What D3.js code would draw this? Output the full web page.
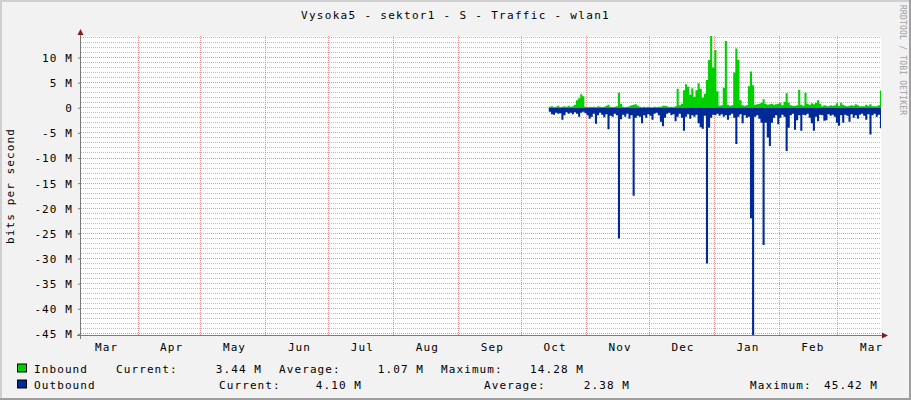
<!DOCTYPE html>
<html><head><meta charset="utf-8">
<script src="https://cdn.jsdelivr.net/npm/d3@7/dist/d3.min.js"></script>
<style>
html,body{margin:0;padding:0;background:#F2F2F2;}
svg{display:block;}
text{font-family:"DejaVu Sans Mono",monospace;}
</style></head><body>
<svg id="chart" width="911" height="400"></svg>
<script>
// ---------------- data ----------------
const chartTitle = "Vysoka5 - sektor1 - S - Traffic - wlan1";
const yAxisTitle = "bits per second";
const watermark = "RRDTOOL / TOBI OETIKER";
const timeStart = "2012-03-04T19:12";
const timeEnd = "2013-03-21T12:30";
const firstDay = "2012-10-14";          // first daily sample
const yMin = -45.42, yMax = 14.28;        // M bits per second
const yTickValues = [-45,-40,-35,-30,-25,-20,-15,-10,-5,0,5,10];

// Inbound (M, positive), one value per day from firstDay
const inbound = [
 0.2,0.3,0.1,0.2,0.4,0.1,0.2,0.3,0.2,0.4,0.2,0.3,
 0.6,1.5,1.9,2.7,2.3,0.2,
 0.1,0.2,0.1,0.2,0.1,0.3,0.2,0.1,0.2,0.4,0.6,0.2,0.1,0.2,0.3,
 3.0,0.8,
 0.2,0.1,0.2,0.3,0.5,0.6,0.7,0.4,
 0.2,0.1,0.2,0.1,0.2,0.1,0.1,0.2,0.1,0.2,0.2,0.4,0.4,0.3,0.1,0.2,0.1,
 0.3,3.8,0.5,0.8,3.5,4.7,4.2,2.6,3.9,2.2,3.5,4.9,3.8,2.0,2.8,5.5,9.5,14.28,8.0,11.5,
 3.3,0.4,0.5,4.0,13.3,0.6,0.4,0.5,7.0,11.8,9.5,1.5,0.5,0.4,0.5,4.3,7.2,4.5,0.6,
 0.7,0.8,1.0,1.7,0.8,0.6,0.7,0.8,0.6,0.7,
 0.8,1.0,0.5,1.2,2.9,1.0,0.5,0.4,0.4,0.5,
 3.6,0.6,0.4,3.0,0.8,0.6,0.9,0.7,1.0,1.5,0.8,
 0.3,0.5,0.4,0.3,0.5,0.4,0.5,0.9,0.4,1.0,0.6,
 0.4,0.3,0.4,0.5,0.4,0.7,0.5,0.3,0.3,0.3,0.6,0.4,0.7,0.3,0.3,0.3,0.5,3.44
];
// Outbound (M, drawn below zero), one value per day from firstDay
const outbound = [
 0.8,1.3,1.4,1.0,1.2,1.1,2.4,1.5,0.9,1.2,
 1.0,1.3,0.9,1.2,1.8,1.0,0.8,1.1,1.5,2.2,
 1.8,1.2,3.2,1.5,1.0,1.4,1.9,1.3,4.3,1.6,
 1.8,1.2,1.5,26.0,2.3,1.4,1.8,1.2,2.2,1.5,
 17.5,2.0,1.6,1.8,3.1,1.5,2.0,1.3,1.6,2.4,
 1.2,1.0,1.5,2.8,3.7,2.0,1.2,1.0,1.5,1.3,
 2.7,1.8,1.2,2.0,4.6,1.8,1.3,2.2,1.5,1.8,
 1.4,3.1,3.9,4.2,1.6,31.0,4.0,2.0,1.4,1.5,
 1.2,1.6,1.3,1.8,1.5,2.4,1.5,1.2,2.0,7.2,
 1.8,1.3,3.1,1.5,2.0,1.8,22.0,45.42,1.8,1.5,
 2.2,3.0,27.3,3.0,5.9,7.6,3.0,2.0,1.5,3.3,
 2.0,1.4,1.8,8.6,4.0,1.5,1.2,4.4,2.5,1.5,
 4.6,1.4,1.5,1.2,2.0,3.1,4.6,1.8,2.7,1.4,
 1.5,2.6,2.5,1.3,1.6,1.4,1.8,3.0,3.6,1.5,
 3.0,1.4,1.6,2.8,1.3,2.0,1.5,2.2,1.4,1.2,
 1.6,2.4,1.3,5.3,1.5,1.2,1.8,1.4,4.10
];
const seriesNames = ["Inbound","Outbound"];
const seriesColors = ["#00CF00","#002A97"];
const currentVals = [3.44, 4.10];
const averageVals = [1.07, 2.38];
const maximumVals = [14.28, 45.42];

// ---------------- drawing ----------------
const W = 911, H = 400;
const L = 81, R = 881, T = 36, B = 336;
const svg = d3.select("#chart");
const FONT = 11, LS = 1.1;

svg.append("rect").attr("width",W).attr("height",H).attr("fill","#F2F2F2");
// 3D frame
svg.append("rect").attr("x",0).attr("y",0).attr("width",W).attr("height",2).attr("fill","#CFCFCF");
svg.append("rect").attr("x",0).attr("y",0).attr("width",2).attr("height",H).attr("fill","#CFCFCF");
svg.append("rect").attr("x",0).attr("y",H-2).attr("width",W).attr("height",2).attr("fill","#9E9E9E");
svg.append("rect").attr("x",W-2).attr("y",0).attr("width",2).attr("height",H).attr("fill","#9E9E9E");

const x = d3.scaleTime().domain([new Date(timeStart), new Date(timeEnd)]).range([L, R]);
const y = d3.scaleLinear().domain([yMin, yMax]).range([B, T]);

svg.append("rect").attr("x",L).attr("y",T).attr("width",R-L).attr("height",B-T).attr("fill","#FFFFFF");

// grid
const gGrid = svg.append("g");
const minorVals = d3.range(Math.ceil(yMin), Math.floor(yMax)+1).filter(v => v % 5 !== 0);
gGrid.selectAll("line.minor").data(minorVals).join("line")
  .attr("x1",L).attr("x2",R)
  .attr("y1",d=>Math.floor(y(d))+0.5).attr("y2",d=>Math.floor(y(d))+0.5)
  .attr("stroke","rgba(143,143,143,0.6)").attr("stroke-dasharray","1,1");
gGrid.selectAll("line.major").data(yTickValues).join("line")
  .attr("x1",L).attr("x2",R)
  .attr("y1",d=>Math.floor(y(d))+0.5).attr("y2",d=>Math.floor(y(d))+0.5)
  .attr("stroke","rgba(222,79,79,0.6)").attr("stroke-dasharray","1,1");
const monthTicks = d3.timeMonth.range(x.domain()[0], x.domain()[1]);
gGrid.selectAll("line.vmajor").data(monthTicks).join("line")
  .attr("x1",d=>Math.floor(x(d))+0.5).attr("x2",d=>Math.floor(x(d))+0.5)
  .attr("y1",T).attr("y2",B)
  .attr("stroke","rgba(222,79,79,0.6)").attr("stroke-dasharray","1,1");

// data
const day0 = d3.timeParse("%Y-%m-%d")(firstDay);
function series(vals, sign){
  const pts = vals.map((v,i)=>({t:d3.timeDay.offset(day0,i), v:sign*v}));
  pts.push({t:x.domain()[1], v:sign*vals[vals.length-1]});
  return pts;
}
const area = d3.area().curve(d3.curveStepAfter)
  .x(d=>x(d.t)).y0(y(0)).y1(d=>y(d.v));
svg.append("clipPath").attr("id","plotclip").append("rect")
  .attr("x",L).attr("y",T).attr("width",R-L).attr("height",B-T);
const gData = svg.append("g").attr("clip-path","url(#plotclip)");
gData.append("path").datum(series(inbound,1)).attr("d",area).attr("fill",seriesColors[0]);
gData.append("path").datum(series(outbound,-1)).attr("d",area).attr("fill",seriesColors[1]);

// axes lines + arrows
const axisCol = "#7a7a7a";
svg.append("line").attr("x1",L-4).attr("x2",R+3).attr("y1",B-0.5).attr("y2",B-0.5)
  .attr("stroke",axisCol).attr("shape-rendering","crispEdges");
svg.append("line").attr("x1",L-0.5).attr("x2",L-0.5).attr("y1",T-4).attr("y2",B+3)
  .attr("stroke",axisCol).attr("shape-rendering","crispEdges");
svg.append("path").attr("d",`M${L-0.5},${T-7} L${L-3.5},${T-1} L${L+2.5},${T-1} Z`).attr("fill","#801F1F");
svg.append("path").attr("d",`M${R+7},${B-0.5} L${R+1},${B-3.5} L${R+1},${B+2.5} Z`).attr("fill","#801F1F");

// y axis labels
const yAxis = d3.axisLeft(y).tickValues(yTickValues)
  .tickFormat(v => v === 0 ? "0" : v + " M")
  .tickSizeInner(3).tickSizeOuter(0).tickPadding(5);
const gy = svg.append("g").attr("transform",`translate(${L},0)`).call(yAxis);
gy.select(".domain").remove();
gy.selectAll("line").attr("stroke",axisCol);
gy.selectAll("text").attr("font-family","DejaVu Sans Mono").attr("font-size",FONT)
  .attr("letter-spacing",LS).attr("fill","#000").attr("dy","0.36em");

// x axis labels (centred in month)
const labelDates = d3.timeMonth.range(d3.timeMonth.floor(x.domain()[0]), x.domain()[1])
  .map(d => new Date(+d + 15.8*864e5)).filter(d => x(d) >= L && x(d) <= R);
const xAxis = d3.axisBottom(x).tickValues(labelDates).tickFormat(d3.timeFormat("%b"))
  .tickSize(0).tickPadding(0);
const gx = svg.append("g").attr("transform",`translate(0,${B})`).call(xAxis);
gx.select(".domain").remove();
gx.selectAll("text").attr("font-family","DejaVu Sans Mono").attr("font-size",FONT)
  .attr("letter-spacing",LS).attr("fill","#000").attr("dy",null).attr("y",15);

// title
svg.append("text").attr("x",W/2).attr("y",19).attr("text-anchor","middle")
  .attr("font-size",FONT).attr("letter-spacing",LS+0.2).text(chartTitle);
// y-axis title
svg.append("text").attr("transform","translate(14,186) rotate(-90)").attr("text-anchor","middle")
  .attr("font-size",FONT).attr("letter-spacing",LS).text(yAxisTitle);
// watermark
svg.append("text").attr("transform","translate(900,5) rotate(90)")
  .attr("font-size",8).attr("letter-spacing",0.2).attr("fill","#A0A0A0").text(watermark);

// legend
const fmtM = v => v.toFixed(2) + " M";
const legendRows = [
  {y:372.5, name:0, cur:[116,261], avg:[279,423], max:[441,583]},
  {y:388.5, name:1, cur:[219,361], avg:[484,629], max:[750,877]}
];
const gl = svg.append("g").attr("font-size",FONT).attr("letter-spacing",LS);
legendRows.forEach(r => {
  const i = r.name;
  gl.append("rect").attr("x",17.5).attr("y",r.y-8.5).attr("width",9).attr("height",8)
    .attr("fill",seriesColors[i]).attr("stroke","#000").attr("stroke-width",1);
  gl.append("text").attr("x",34).attr("y",r.y).text(seriesNames[i]);
  [["Current:",r.cur,currentVals[i]],["Average:",r.avg,averageVals[i]],["Maximum:",r.max,maximumVals[i]]]
    .forEach(([lab,pos,val]) => {
      gl.append("text").attr("x",pos[0]).attr("y",r.y).text(lab);
      gl.append("text").attr("x",pos[1]+LS).attr("y",r.y).attr("text-anchor","end").text(fmtM(val));
    });
});
</script>
</body></html>
